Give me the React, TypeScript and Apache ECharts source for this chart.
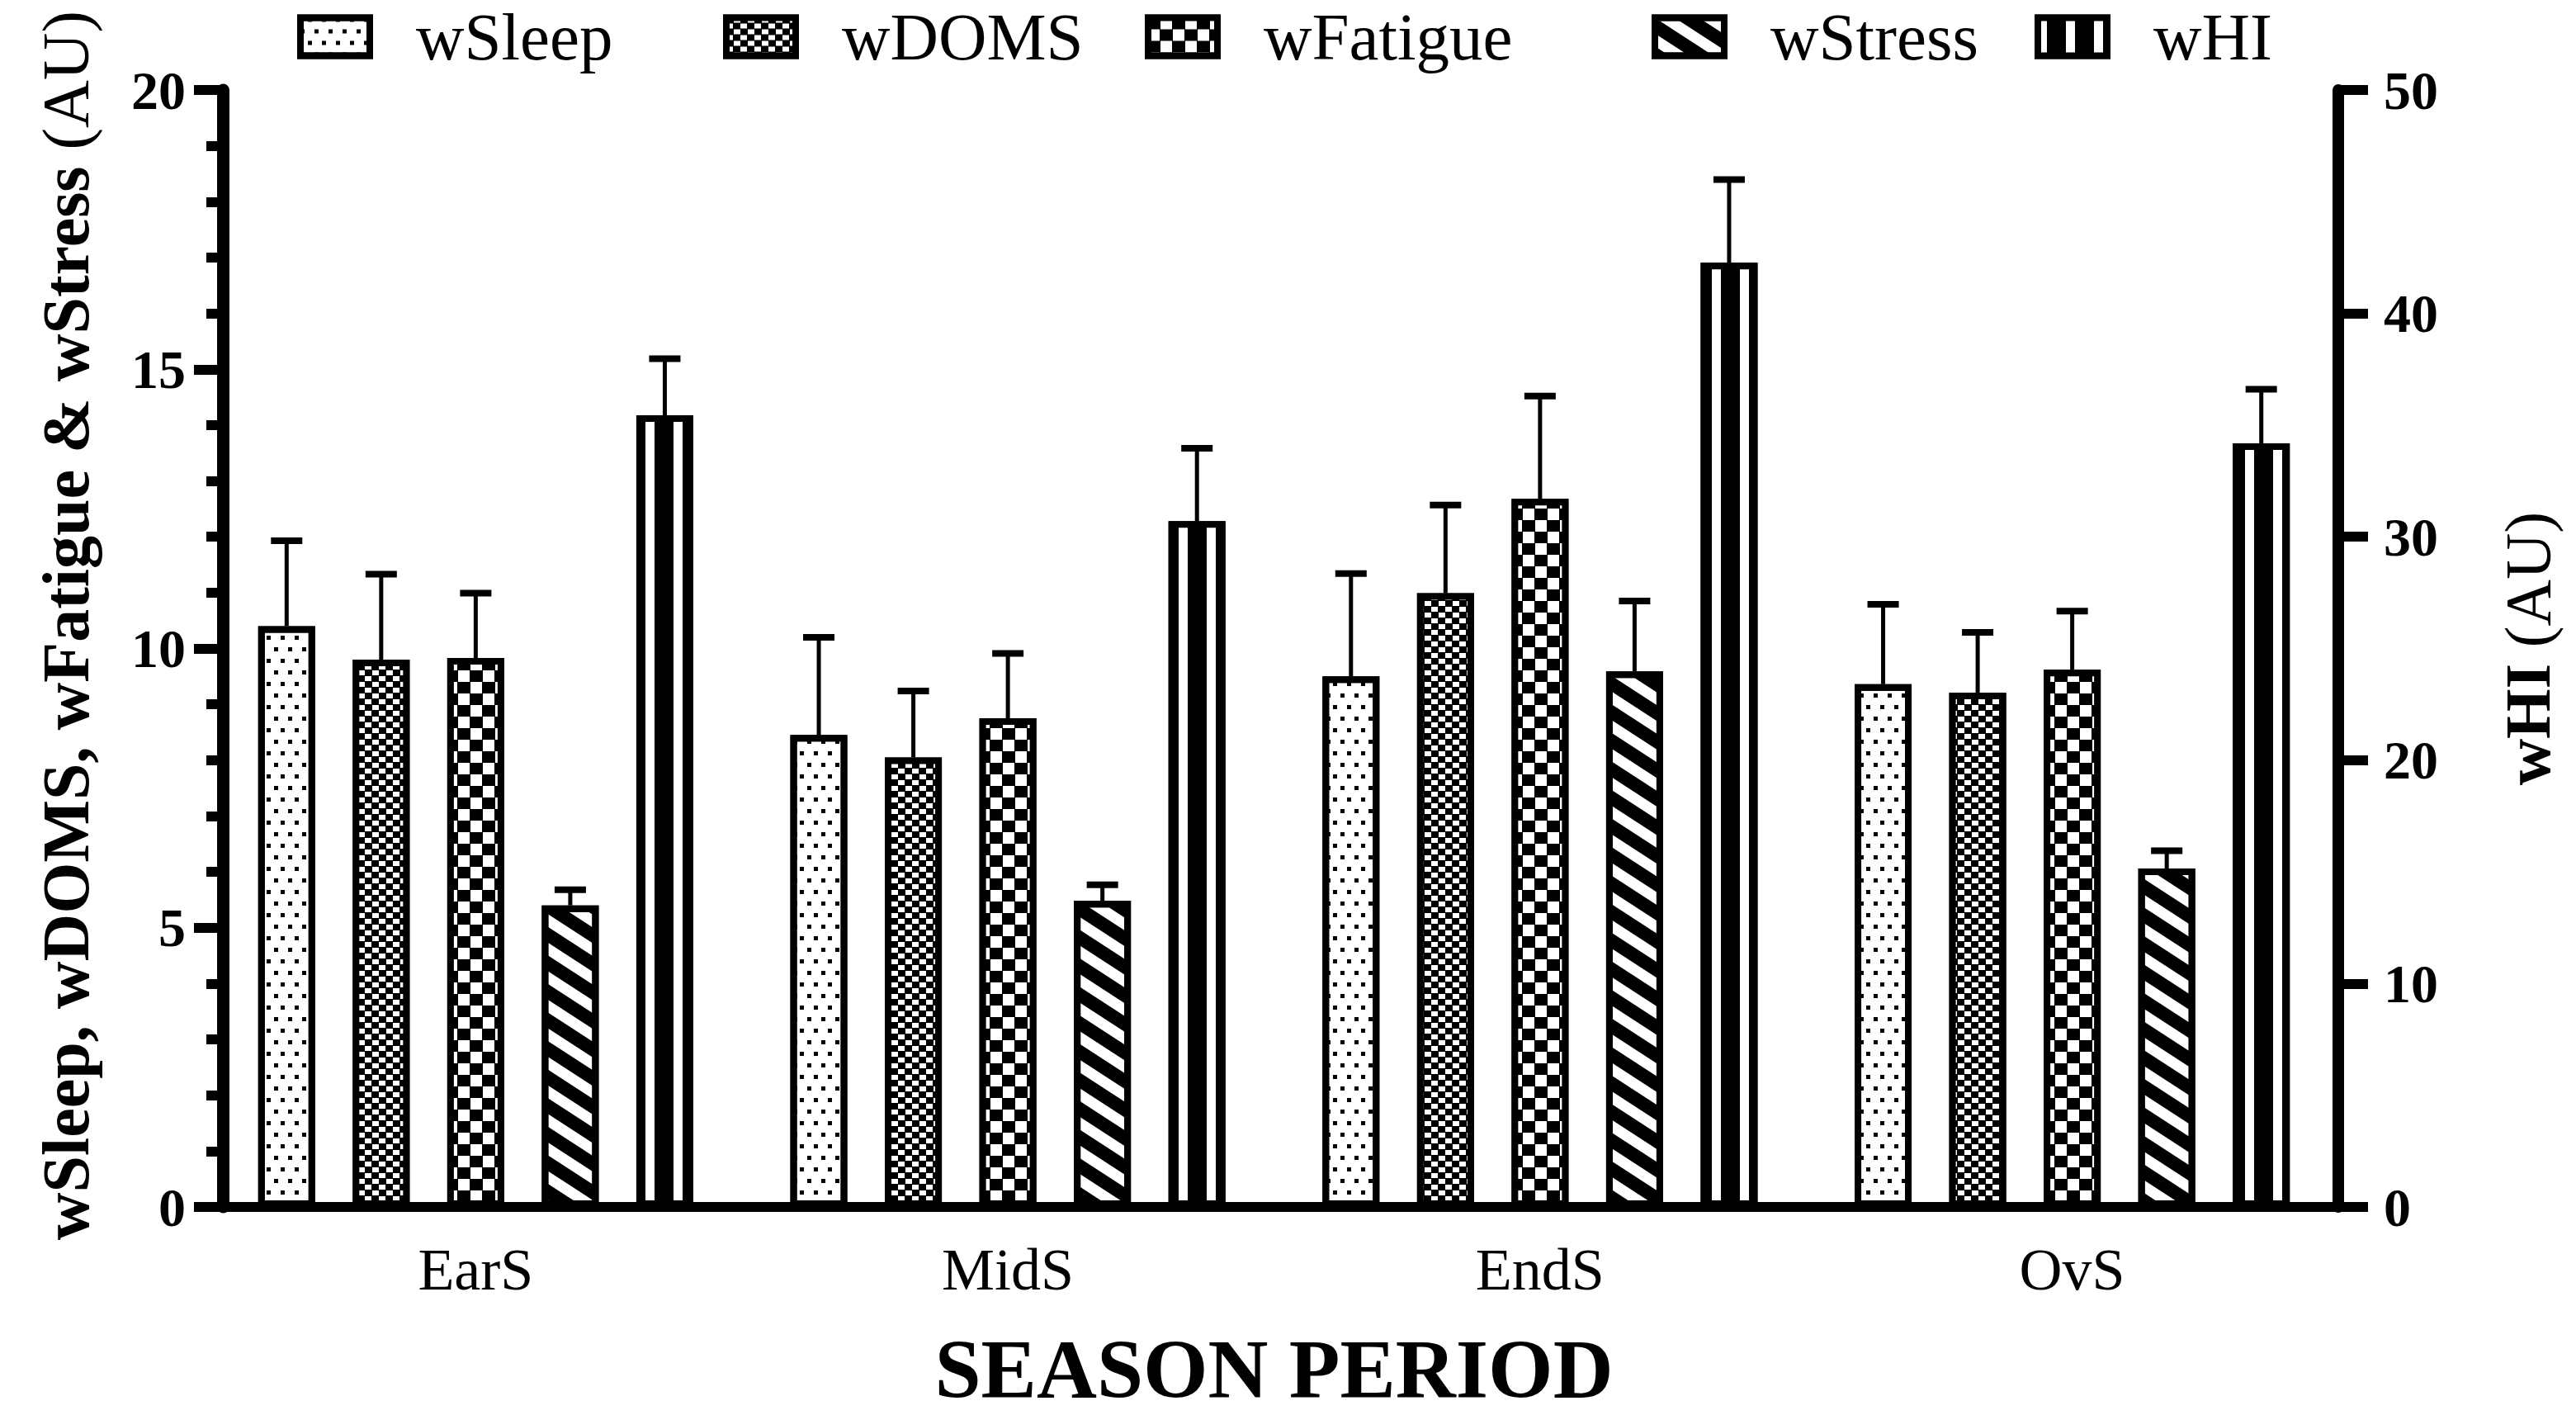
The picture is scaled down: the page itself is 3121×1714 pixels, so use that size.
import React, { useEffect, useRef } from "react";
import * as echarts from "echarts";

// ---- data ----
const categories = ["EarS", "MidS", "EndS", "OvS"];
const seriesNames = ["wSleep", "wDOMS", "wFatigue", "wStress", "wHI"];

const wSleep = [10.4, 8.45, 9.5, 9.36];
const wDOMS = [9.8, 8.05, 10.99, 9.21];
const wFatigue = [9.83, 8.75, 12.68, 9.62];
const wStress = [5.4, 5.48, 9.59, 6.06];
const wHI = [35.44, 30.7, 42.27, 34.18];

const wSleepSD = [1.53, 1.75, 1.84, 1.43];
const wDOMSSD = [1.53, 1.19, 1.58, 1.08];
const wFatigueSD = [1.16, 1.16, 1.84, 1.05];
const wStressSD = [0.28, 0.29, 1.26, 0.32];
const wHISD = [2.53, 3.26, 3.72, 2.42];

const leftTicks = [0, 5, 10, 15, 20];
const rightTicks = [0, 10, 20, 30, 40, 50];

// ---- styling ----
const FONT = "'Liberation Serif', 'Times New Roman', serif";
const BAR_W = 69;
const BAR_GAP = 0.66;
const LEGEND_LEFT = [356, 872, 1383, 1997, 2461];

const values = [wSleep, wDOMS, wFatigue, wStress, wHI];
const sds = [wSleepSD, wDOMSSD, wFatigueSD, wStressSD, wHISD];

const decals: any[] = [
  { symbol: "rect", symbolSize: 1, color: "#000", backgroundColor: "#fff", dashArrayX: [[5, 12], [0, 9, 5, 3]], dashArrayY: [5, 9] },
  { symbol: "rect", symbolSize: 1, color: "#fff", dashArrayX: [[8, 9], [0, 9, 8, 0]], dashArrayY: [6, 1] },
  { symbol: "rect", symbolSize: 1, color: "#fff", dashArrayX: [[14, 16], [0, 15, 14, 1]], dashArrayY: [14, 0] },
  { symbol: "rect", symbolSize: 1, color: "#000", dashArrayX: [1, 0], dashArrayY: [16, 13], rotation: 0.576 },
  { symbol: "rect", symbolSize: 1, color: "#fff", dashArrayX: [11, 23], dashArrayY: [10, 0] },
];
const fills = ["#fff", "#000", "#000", "#fff", "#000"];

export default function App() {
  const ref = useRef<HTMLDivElement>(null);
  useEffect(() => {
    if (!ref.current) return;
    const chart = echarts.init(ref.current, null, { renderer: "svg" });
    const pitch = BAR_W * (1 + BAR_GAP);

    const barSeries = seriesNames.map((name, i) => ({
      name,
      type: "bar",
      yAxisIndex: i === 4 ? 1 : 0,
      barWidth: BAR_W,
      barGap: BAR_GAP * 100 + "%",
      data: values[i],
      itemStyle: { color: fills[i], borderColor: "#000", borderWidth: 8, decal: decals[i] },
      emphasis: { disabled: true },
    }));

    const errSeries = seriesNames.map((name, i) => ({
      name: name + "-err",
      type: "custom",
      yAxisIndex: i === 4 ? 1 : 0,
      silent: true,
      z: 5,
      data: values[i].map((v, k) => [k, v, sds[i][k]]),
      encode: { x: 0, y: 1 },
      renderItem: (params: any, api: any) => {
        const ci = api.value(0);
        const v = api.value(1);
        const e = api.value(2);
        const base = api.coord([ci, v]);
        const top = api.coord([ci, v + e]);
        const x = base[0] + (i - 2) * pitch;
        return {
          type: "group",
          children: [
            { type: "line", shape: { x1: x, y1: base[1], x2: x, y2: top[1] }, style: { stroke: "#000", lineWidth: 5 } },
            { type: "line", shape: { x1: x - 19, y1: top[1], x2: x + 19, y2: top[1] }, style: { stroke: "#000", lineWidth: 8 } },
          ],
        };
      },
    }));

    const option: any = {
      animation: false,
      backgroundColor: "#fff",
      textStyle: { fontFamily: FONT, color: "#000" },
      legend: seriesNames.map((name, i) => ({
        data: [name],
        left: LEGEND_LEFT[i] + 4,
        top: 4,
        padding: 0,
        icon: "rect",
        itemWidth: 84,
        itemHeight: 46,
        selectedMode: false,
        itemStyle: { borderColor: "#000", borderWidth: 8 },
        textStyle: { fontFamily: FONT, fontSize: 81, color: "#000", padding: [0, 0, 0, 51] },
      })),
      grid: { left: 254, right: 3121 - 2833, top: 109, bottom: 1714 - 1472, containLabel: false },
      xAxis: {
        type: "category",
        data: categories,
        name: "SEASON PERIOD",
        nameLocation: "middle",
        nameGap: 146,
        nameTextStyle: { fontFamily: FONT, fontWeight: "bold", fontSize: 101, color: "#000" },
        axisLine: { lineStyle: { color: "#000", width: 12 } },
        axisTick: { alignWithLabel: true, length: 30, lineStyle: { color: "#000", width: 13 } },
        axisLabel: { fontFamily: FONT, fontSize: 72, color: "#000", margin: 40 },
      },
      yAxis: [
        {
          type: "value",
          min: leftTicks[0],
          max: leftTicks[leftTicks.length - 1],
          interval: leftTicks[1] - leftTicks[0],
          offset: -16,
          name: "{b|wSleep, wDOMS, wFatigue & wStress }{r|(AU)}",
          nameLocation: "middle",
          nameRotate: 90,
          nameGap: 150,
          nameTextStyle: {
            padding: [0, 0, 0, 56],
            rich: {
              b: { fontFamily: FONT, fontWeight: "bold", fontSize: 80, color: "#000" },
              r: { fontFamily: FONT, fontSize: 80, color: "#000" },
            },
          },
          splitLine: { show: false },
          axisLine: { show: true, lineStyle: { color: "#000", width: 15 } },
          axisTick: { show: true, length: 35, lineStyle: { color: "#000", width: 12 } },
          minorTick: { show: true, splitNumber: 5, length: 20, lineStyle: { color: "#000", width: 12 } },
          axisLabel: { fontFamily: FONT, fontWeight: "bold", fontSize: 66, color: "#000", margin: 45 },
        },
        {
          type: "value",
          min: rightTicks[0],
          max: rightTicks[rightTicks.length - 1],
          interval: rightTicks[1] - rightTicks[0],
          position: "right",
          name: "{b|wHI }{r|(AU)}",
          nameLocation: "middle",
          nameRotate: 90,
          nameGap: 190,
          nameTextStyle: {
            rich: {
              b: { fontFamily: FONT, fontWeight: "bold", fontSize: 78, color: "#000" },
              r: { fontFamily: FONT, fontSize: 78, color: "#000" },
            },
          },
          splitLine: { show: false },
          axisLine: { show: true, lineStyle: { color: "#000", width: 14 } },
          axisTick: { show: true, length: 36, lineStyle: { color: "#000", width: 12 } },
          axisLabel: { fontFamily: FONT, fontWeight: "bold", fontSize: 66, color: "#000", margin: 55 },
        },
      ],
      series: [...barSeries, ...errSeries],
    };
    chart.setOption(option);
    return () => chart.dispose();
  }, []);
  return <div ref={ref} style={{ position: "fixed", left: 0, top: 0, width: 3121, height: 1714 }} />;
}
